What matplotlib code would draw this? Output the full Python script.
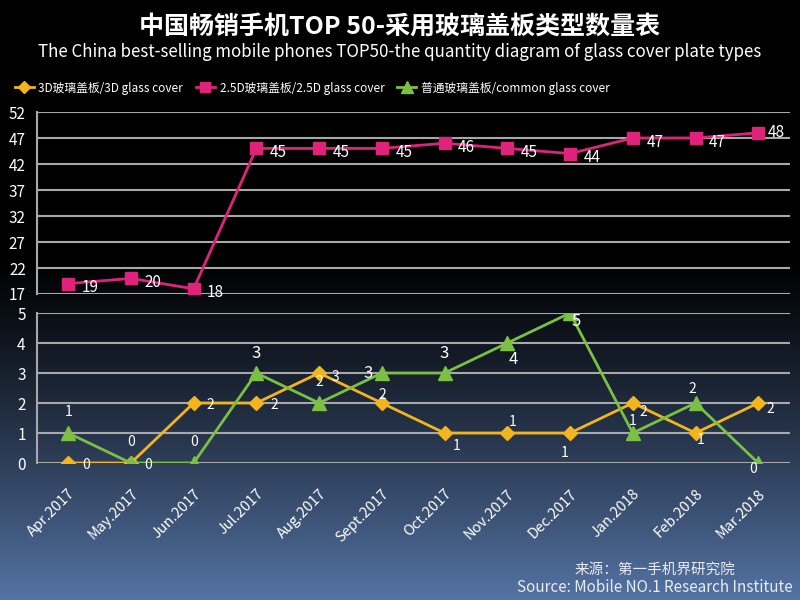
import matplotlib.pyplot as plt
import numpy as np
from matplotlib.lines import Line2D

plt.rcParams['font.family'] = ['Noto Sans CJK SC', 'DejaVu Sans']

months = ['Apr.2017', 'May.2017', 'Jun.2017', 'Jul.2017', 'Aug.2017', 'Sept.2017',
          'Oct.2017', 'Nov.2017', 'Dec.2017', 'Jan.2018', 'Feb.2018', 'Mar.2018']
glass_3d = [0, 0, 2, 2, 3, 2, 1, 1, 1, 2, 1, 2]
glass_25d = [19, 20, 18, 45, 45, 45, 46, 45, 44, 47, 47, 48]
glass_common = [1, 0, 0, 3, 2, 3, 3, 4, 5, 1, 2, 0]

# label offsets in pixels (dx, dy up)
off_3d = [(18, -2), (17, -2), (17, -2), (18, -2), (16, -4), (0, 8),
          (12, -13), (5, 11), (-5, -20), (11, -9), (5, -7), (12, -6)]
off_common = [(0, 21), (0, 21), (0, 21), (0, 20), (0, 21), (-14, 0),
              (0, 20), (6, -16), (6, -8), (0, 12), (-3, 14), (-5, -6)]
off_25d = [(22, -4)] * 11 + [(18, 0)]

yellow = '#F2B51E'
pink = '#E0237A'
green = '#7CC043'
grid_c = '#A8A8A8'

fig = plt.figure(figsize=(8, 6), dpi=100)

# background gradient
bg = fig.add_axes([0, 0, 1, 1], zorder=-10)
t = np.linspace(0, 1, 300)
w = np.clip((t - 0.42) / 0.58, 0, 1) ** 1.2
top = np.array([0, 0, 0])
bot = np.array([0.33, 0.45, 0.64])
cols = top[None, :] * (1 - w[:, None]) + bot[None, :] * w[:, None]
bg.imshow(cols[:, None, :], aspect='auto', extent=[0, 1, 1, 0])
bg.set_axis_off()

x = np.arange(len(months))
ax1 = fig.add_axes([0.046, 0.51, 0.941, 0.3033])
ax2 = fig.add_axes([0.046, 0.2283, 0.941, 0.25])

for ax in (ax1, ax2):
    ax.set_facecolor('none')
    ax.set_xlim(-0.5, len(months) - 0.5)
    for s in ['top', 'right', 'bottom']:
        ax.spines[s].set_visible(False)
    ax.spines['left'].set_color(grid_c)
    ax.spines['left'].set_linewidth(1.5)
    ax.grid(axis='y', color=grid_c, linewidth=1.5)
    ax.set_axisbelow(True)
    ax.tick_params(axis='y', length=0, colors='white', labelsize=11, pad=8)
    ax.tick_params(axis='x', length=0)

ax1.set_ylim(17, 52)
ax1.set_yticks(np.arange(17, 53, 5))
ax1.set_xticks([])
ax1.plot(x, glass_25d, color=pink, marker='s', markersize=8, linewidth=2)
for i, v in enumerate(glass_25d):
    ax1.annotate(str(v), (x[i], v), xytext=off_25d[i], textcoords='offset pixels',
                 ha='center', va='center', color='white', fontsize=11)

ax2.set_ylim(0, 5)
ax2.set_yticks(range(6))
ax2.plot(x, glass_3d, color=yellow, marker='D', markersize=7, linewidth=2)
ax2.plot(x, glass_common, color=green, marker='^', markersize=10, linewidth=2)
for i in range(len(months)):
    ax2.annotate(str(glass_3d[i]), (x[i], glass_3d[i]), xytext=off_3d[i],
                 textcoords='offset pixels', ha='center', va='center',
                 color='white', fontsize=10)
    ax2.annotate(str(glass_common[i]), (x[i], glass_common[i]), xytext=off_common[i],
                 textcoords='offset pixels', ha='center', va='center',
                 color='white', fontsize=10 if glass_common[i] < 3 else 12)
ax2.set_xticks(x)
ax2.set_xticklabels(months, rotation=45, ha='right', rotation_mode='anchor',
                    color='white', fontsize=10.5, style='italic')
ax2.tick_params(axis='x', pad=17)

fig.text(0.5, 1 - 27 / 600, '中国畅销手机TOP 50-采用玻璃盖板类型数量表', ha='center', va='center',
         color='white', fontsize=18, fontweight='bold')
fig.text(0.5, 1 - 52 / 600,
         'The China best-selling mobile phones TOP50-the quantity diagram of glass cover plate types',
         ha='center', va='center', color='white', fontsize=12.2)

handles = [
    Line2D([], [], color=yellow, marker='D', markersize=6, linewidth=2),
    Line2D([], [], color=pink, marker='s', markersize=7, linewidth=2),
    Line2D([], [], color=green, marker='^', markersize=8, linewidth=2),
]
labels = ['3D玻璃盖板/3D glass cover', '2.5D玻璃盖板/2.5D glass cover', '普通玻璃盖板/common glass cover']
fig.legend(handles, labels, loc='center left', bbox_to_anchor=(0.005, 1 - 88 / 600),
           ncol=3, frameon=False, labelcolor='white', fontsize=8.5,
           handlelength=1.6, handletextpad=0.4, columnspacing=1.1)

fig.text(655 / 800, 1 - 570 / 600, '来源：第一手机界研究院', ha='center', va='center',
         color='#E8ECF4', fontsize=10.5)
fig.text(655 / 800, 1 - 588 / 600, 'Source: Mobile NO.1 Research Institute', ha='center',
         va='center', color='#E8ECF4', fontsize=11)

fig.savefig('out.png', dpi=100)
